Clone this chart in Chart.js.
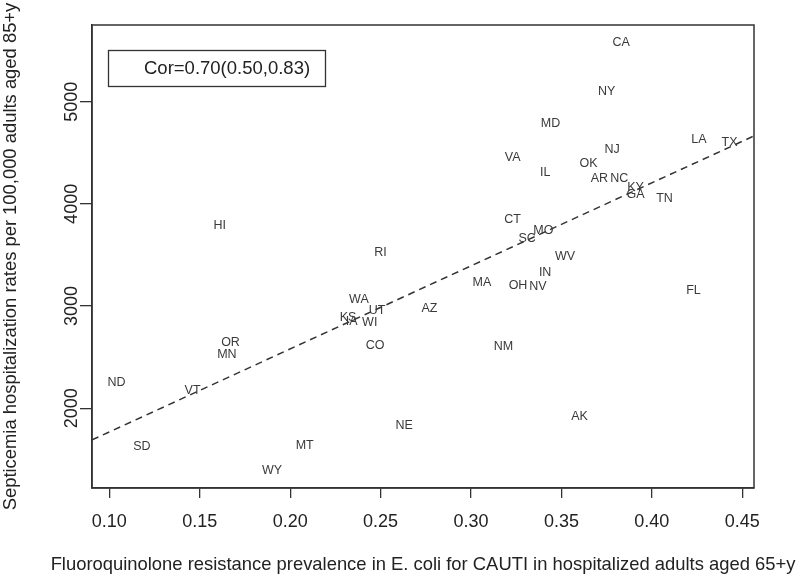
<!DOCTYPE html>
<html>
<head>
<meta charset="utf-8">
<script src="https://cdn.jsdelivr.net/npm/chart.js@4.4.1/dist/chart.umd.min.js"></script>
<style>
  body { margin: 0; background: #fff; }
  canvas { display: block; }
</style>
</head>
<body>
<canvas id="Chart" width="800" height="581"></canvas>
<script>
// state labels
const states = ["CA", "NY", "MD", "LA", "TX", "NJ", "VA", "IL", "OK", "AR", "NC", "KY", "GA", "TN",
  "CT", "MO", "SC", "RI", "WV", "IN", "MA", "OH", "NV", "FL", "WA", "UT", "AZ", "KS", "IA", "WI",
  "CO", "NM", "HI", "OR", "MN", "ND", "VT", "SD", "WY", "MT", "NE", "AK"];
// FQ resistance prevalence (x)
const resistance = [0.383, 0.375, 0.344, 0.426, 0.443, 0.378, 0.323, 0.341, 0.365, 0.371, 0.382, 0.391, 0.391, 0.407,
  0.323, 0.340, 0.331, 0.250, 0.352, 0.341, 0.306, 0.326, 0.337, 0.423, 0.238, 0.248, 0.277, 0.232, 0.234, 0.244,
  0.247, 0.318, 0.161, 0.167, 0.165, 0.104, 0.146, 0.118, 0.190, 0.208, 0.263, 0.360];
// septicemia hospitalization rate (y)
const septicemia = [5574, 5095, 4782, 4625, 4596, 4527, 4449, 4302, 4390, 4244, 4244, 4156, 4087, 4048,
  3843, 3736, 3658, 3521, 3481, 3325, 3227, 3198, 3188, 3149, 3068, 2961, 2980, 2892, 2853, 2843,
  2618, 2608, 3785, 2648, 2521, 2248, 2169, 1621, 1387, 1631, 1827, 1915];

const xTicks = [0.10, 0.15, 0.20, 0.25, 0.30, 0.35, 0.40, 0.45];
const yTicks = [2000, 3000, 4000, 5000];
const xRange = [0.0904, 0.4565];
const yRange = [1220, 5750];

// fitted line y = a + b*x
const fitIntercept = 956;
const fitSlope = 8124;

const corText = "Cor=0.70(0.50,0.83)";
const xTitle = "Fluoroquinolone resistance prevalence in E. coli for CAUTI in hospitalized adults aged 65+y";
const yTitle = "Septicemia hospitalization rates per 100,000 adults aged 85+y";

const FONT = "'Liberation Sans', Arial, sans-serif";

const points = states.map((s, i) => ({ x: resistance[i], y: septicemia[i] }));
const fitPoints = xRange.map((x) => ({ x: x, y: fitIntercept + fitSlope * x }));

// draws the R-like bits: state text, box, rotated y labels, titles, legend
const rPlot = {
  id: "rPlot",
  afterDatasetsDraw(chart) {
    const ctx = chart.ctx;
    const meta = chart.getDatasetMeta(0);
    ctx.save();
    ctx.font = "12.5px " + FONT;
    ctx.fillStyle = "#3a3a3a";
    ctx.textAlign = "center";
    ctx.textBaseline = "middle";
    meta.data.forEach((pt, i) => ctx.fillText(states[i], pt.x, pt.y));
    ctx.restore();
  },
  afterDraw(chart) {
    const { ctx, chartArea: a, scales } = chart;
    ctx.save();
    ctx.strokeStyle = "#333";
    ctx.lineWidth = 1.5;
    ctx.strokeRect(a.left, a.top, a.right - a.left, a.bottom - a.top);

    ctx.fillStyle = "#222";
    ctx.font = "18px " + FONT;
    ctx.textAlign = "center";
    ctx.textBaseline = "middle";
    yTicks.forEach((v) => {
      const y = scales.y.getPixelForValue(v);
      ctx.save();
      ctx.translate(a.left - 20, y);
      ctx.rotate(-Math.PI / 2);
      ctx.fillText(String(v), 0, 0);
      ctx.restore();
    });

    ctx.font = "18.4px " + FONT;
    ctx.fillText(xTitle, (a.left + a.right) / 2, a.bottom + 77);
    ctx.save();
    ctx.translate(11, (a.top + a.bottom) / 2);
    ctx.rotate(-Math.PI / 2);
    ctx.fillText(yTitle, 0, 0);
    ctx.restore();

    ctx.lineWidth = 1.3;
    ctx.strokeRect(a.left + 16.5, a.top + 25.5, 217, 36);
    ctx.font = "18.5px " + FONT;
    ctx.textAlign = "left";
    ctx.fillText(corText, a.left + 52, a.top + 44);
    ctx.restore();
  },
};

const ctx = document.getElementById("Chart").getContext("2d");
new Chart(ctx, {
  type: "scatter",
  data: {
    datasets: [
      { data: points, pointRadius: 0, pointHoverRadius: 0 },
      {
        type: "line",
        data: fitPoints,
        borderColor: "#333",
        borderWidth: 1.5,
        borderDash: [7, 5],
        pointRadius: 0,
        fill: false,
      },
    ],
  },
  options: {
    responsive: false,
    animation: false,
    devicePixelRatio: 1,
    layout: { padding: { top: 25, right: 46, left: 0, bottom: 0 } },
    plugins: { legend: { display: false }, tooltip: { enabled: false } },
    scales: {
      x: {
        type: "linear",
        min: xRange[0],
        max: xRange[1],
        afterBuildTicks: (s) => { s.ticks = xTicks.map((v) => ({ value: v })); },
        afterFit: (s) => { s.height = 93; },
        grid: { drawOnChartArea: false, drawTicks: true, tickLength: 10, color: "#333", lineWidth: 1.3 },
        border: { display: true, color: "#333", width: 1.5 },
        ticks: {
          color: "#222",
          font: { family: FONT, size: 18 },
          padding: 13,
          maxRotation: 0,
          autoSkip: false,
          callback: (v) => Number(v).toFixed(2),
        },
      },
      y: {
        type: "linear",
        min: yRange[0],
        max: yRange[1],
        afterBuildTicks: (s) => { s.ticks = yTicks.map((v) => ({ value: v })); },
        afterFit: (s) => { s.width = 92; },
        grid: { drawOnChartArea: false, drawTicks: true, tickLength: 12, color: "#333", lineWidth: 1.3 },
        border: { display: true, color: "#333", width: 1.5 },
        ticks: { color: "rgba(0,0,0,0)", font: { family: FONT, size: 16 } },
      },
    },
  },
  plugins: [rPlot],
});
</script>
</body>
</html>
